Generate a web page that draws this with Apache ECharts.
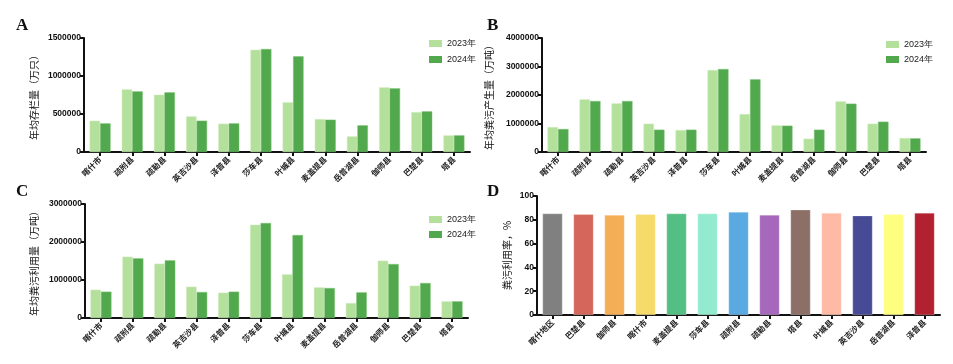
<!DOCTYPE html>
<html>
<head>
<meta charset="utf-8">
<script src="https://cdn.jsdelivr.net/npm/echarts@6/dist/echarts.min.js"></script>
<style>html,body{margin:0;padding:0;background:#fff;}#main{width:953px;height:364px;}</style>
</head>
<body>
<div id="main"></div>
<script>
var counties = ['喀什市','疏附县','疏勒县','英吉沙县','泽普县','莎车县','叶城县','麦盖提县','岳普湖县','伽师县','巴楚县','塔县'];
var stock2023 = [412000, 825000, 754000, 469000, 373000, 1346000, 654000, 434000, 206000, 851000, 526000, 219000];
var stock2024 = [377000, 798000, 785000, 412000, 377000, 1355000, 1259000, 425000, 351000, 838000, 535000, 219000];
var manure2023 = [877000, 1848000, 1708000, 994000, 772000, 2877000, 1333000, 936000, 468000, 1778000, 994000, 491000];
var manure2024 = [807000, 1789000, 1789000, 784000, 784000, 2912000, 2550000, 924000, 784000, 1696000, 1064000, 480000];
var use2023 = [746000, 1614000, 1430000, 825000, 667000, 2456000, 1149000, 807000, 395000, 1509000, 851000, 439000];
var use2024 = [693000, 1570000, 1518000, 684000, 693000, 2500000, 2184000, 789000, 675000, 1421000, 921000, 439000];
var rateRegions = ['喀什地区','巴楚县','伽师县','喀什市','麦盖提县','莎车县','疏附县','疏勒县','塔县','叶城县','英吉沙县','岳普湖县','泽普县'];
var rateValues = [85.2, 84.6, 84.1, 84.6, 85.2, 85.2, 86.6, 84.1, 88.5, 85.8, 83.5, 84.6, 85.8];
var rateColors = ['#808080','#d4665b','#f4ae55','#f6da6a','#53bf82','#93eacf','#5aa9e1','#a568bb','#8c7068','#ffbaa5','#474b95','#fefe7f','#b2212f'];
var yearNames = ['2023年','2024年'];

var LIGHT = '#b3e09b', DARK = '#52a84c';
var axisLine = {show:true, lineStyle:{color:'#111', width:2}};
var axisTick = {show:true, length:4, lineStyle:{color:'#111', width:2}};
var yLabel = {fontSize:8.5, fontWeight:'bold', color:'#111', fontFamily:'Liberation Sans, Arial', margin:3,
  formatter:function(v){return String(v);}};
var xLabel = {fontSize:8, color:'#222', rotate:45, interval:0, margin:6, fontFamily:'Noto Sans CJK SC', fontWeight:'bold'};
var nameStyle = {fontSize:10, color:'#111', fontFamily:'Noto Sans CJK SC'};

function xA(idx, data){
  return {type:'category', gridIndex:idx, data:data, axisLine:axisLine,
    axisTick:{show:true, length:4, alignWithLabel:true, lineStyle:{color:'#111', width:2}},
    axisLabel:xLabel};
}
function yA(idx, max, interval, name, gap){
  return {type:'value', gridIndex:idx, min:0, max:max, interval:interval, name:name,
    nameLocation:'middle', nameGap:gap, nameTextStyle:nameStyle,
    axisLine:axisLine, axisTick:axisTick, axisLabel:yLabel, splitLine:{show:false}};
}
function pair(idx, d1, d2, bw){
  return [
    {type:'bar', name:yearNames[0], xAxisIndex:idx, yAxisIndex:idx, data:d1, barWidth:bw, barGap:'0%',
      itemStyle:{color:LIGHT, borderColor:'#d5efc6', borderWidth:0.5}},
    {type:'bar', name:yearNames[1], xAxisIndex:idx, yAxisIndex:idx, data:d2, barWidth:bw, barGap:'0%',
      itemStyle:{color:DARK, borderColor:'#7cc277', borderWidth:0.5}}
  ];
}
function leg(left, top, gap){
  return {data:yearNames, left:left, top:top, orient:'vertical', icon:'rect', itemWidth:13, itemHeight:7,
    itemGap:gap, itemStyle:{borderWidth:0}, textStyle:{fontSize:9, color:'#222', fontFamily:'Liberation Sans, Arial'}, selectedMode:false};
}
function letter(t, x, y){
  return {type:'text', left:x, top:y, style:{text:t, font:'bold 17px "Liberation Serif", "Times New Roman", serif', fill:'#111'}};
}

var chart = echarts.init(document.getElementById('main'), null, {renderer:'canvas'});
var option = {
  animation:false,
  backgroundColor:'#fff',
  grid:[
    {left:84, top:38, width:386, height:114},
    {left:542, top:38, width:384, height:114},
    {left:85, top:204, width:383, height:114},
    {left:537, top:196, width:403, height:119}
  ],
  xAxis:[xA(0, counties), xA(1, counties), xA(2, counties), xA(3, rateRegions)],
  yAxis:[
    yA(0, 1500000, 500000, '年均存栏量（万只）', 45),
    yA(1, 4000000, 1000000, '年均粪污产生量（万吨）', 48),
    yA(2, 3000000, 1000000, '年均粪污利用量（万吨）', 46),
    yA(3, 100, 20, '粪污利用率，%', 25)
  ],
  legend:[leg(424, 34, 7), leg(881, 35, 6), leg(424, 210, 6)],
  series: [].concat(
    pair(0, stock2023, stock2024, 10.5),
    pair(1, manure2023, manure2024, 10.5),
    pair(2, use2023, use2024, 10.5),
    [{type:'bar', xAxisIndex:3, yAxisIndex:3, data:rateValues, barWidth:20,
      itemStyle:{color:function(p){return rateColors[p.dataIndex];}, borderColor:'rgba(255,255,255,0.5)', borderWidth:0.5}}]
  ),
  graphic:[letter('A', 16, 17), letter('B', 487, 17), letter('C', 16, 183), letter('D', 487, 183)]
};
chart.setOption(option);
</script>
</body>
</html>
